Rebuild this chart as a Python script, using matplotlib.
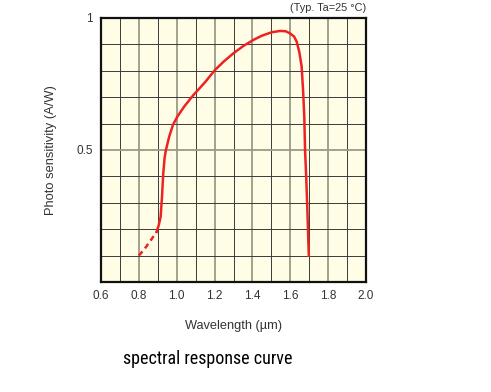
import numpy as np
import matplotlib.pyplot as plt

# spectral response
wl_dash = [0.80, 0.83, 0.86, 0.894]
sens_dash = [0.10, 0.125, 0.155, 0.19]
wl_solid = [0.894, 0.905, 0.915, 0.922, 0.929, 0.936, 0.943, 0.96, 0.98, 1.003,
            1.04, 1.088, 1.15, 1.202, 1.25, 1.299, 1.35, 1.405, 1.45, 1.502,
            1.546, 1.575, 1.598, 1.62, 1.634, 1.648, 1.66, 1.668, 1.674, 1.678,
            1.684, 1.690, 1.695, 1.698]
sens_solid = [0.19, 0.215, 0.247, 0.32, 0.412, 0.47, 0.50, 0.55, 0.595, 0.626,
              0.665, 0.708, 0.757, 0.803, 0.836, 0.866, 0.893, 0.917, 0.933, 0.946,
              0.951, 0.950, 0.942, 0.93, 0.91, 0.87, 0.816, 0.72, 0.626, 0.50,
              0.40, 0.28, 0.16, 0.10]

x_ticks = [0.6, 0.8, 1.0, 1.2, 1.4, 1.6, 1.8, 2.0]
y_ticks = [0.5, 1.0]
y_ticklabels = ["0.5", "1"]

plt.rcParams['font.family'] = ['Liberation Sans', 'DejaVu Sans']
txt = "#333333"

fig = plt.figure(figsize=(4.91, 3.92), dpi=100)
ax = fig.add_axes([101 / 491, 1 - 282 / 392, 265 / 491, 264 / 392])
ax.set_facecolor("#fffde6")
ax.set_xlim(0.6, 2.0)
ax.set_ylim(0, 1)

# grid: heavier grey lines at 0.2 steps / 0.5, thin dark lines otherwise
for x in np.arange(0.7, 2.0, 0.1):
    major = abs(round(x * 10) % 2) == 0
    ax.axvline(x, color="#9a9a8a" if major else "#3a3a3a",
               lw=1.3 if major else 0.7, zorder=1)
for y in np.arange(0.1, 1.0, 0.1):
    major = abs(y - 0.5) < 1e-6
    ax.axhline(y, color="#9a9a8a" if major else "#3a3a3a",
               lw=1.3 if major else 0.7, zorder=1)

ax.plot(wl_dash, sens_dash, color="#ee2222", lw=1.8, ls=(0, (2.2, 1.6)), zorder=3)
ax.plot(wl_solid, sens_solid, color="#ee2222", lw=1.8, zorder=3)

for s in ax.spines.values():
    s.set_linewidth(1.6)
    s.set_color("#111111")
    s.set_zorder(4)

ax.set_xticks(x_ticks)
ax.set_xticklabels([f"{v:.1f}" for v in x_ticks])
ax.set_yticks(y_ticks)
ax.set_yticklabels(y_ticklabels)
ax.tick_params(length=0, labelsize=8.5, colors=txt, pad=6)

ax.set_xlabel("Wavelength (µm)", fontsize=9.2, color=txt, labelpad=13)
ax.set_ylabel("Photo sensitivity (A/W)", fontsize=9.3, color=txt, labelpad=14)
ax.text(1.0, 1.02, "(Typ. Ta=25 °C)", transform=ax.transAxes,
        ha="right", va="bottom", fontsize=7.9, color=txt)

fig.text(208 / 491, 1 - 359 / 392, "spectral response curve", ha="center", va="center",
         fontsize=13, color="black",
         family=['Liberation Sans Narrow', 'Roboto Condensed', 'DejaVu Sans'])

fig.savefig("out.png", dpi=100, facecolor="white")
